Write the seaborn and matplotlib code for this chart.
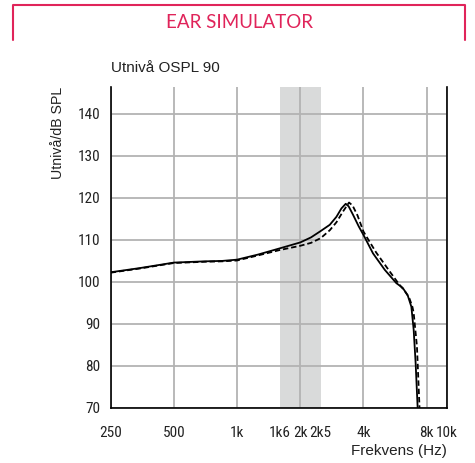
import pandas as pd
import seaborn as sns
import matplotlib.pyplot as plt
from matplotlib.lines import Line2D
from matplotlib.ticker import FixedLocator, FixedFormatter

# values (frequency in Hz, level in dB SPL)
freq_solid = [250, 345, 500, 703, 850, 1000, 1256, 1600, 2000, 2250, 2500, 2765, 2974, 3142,
              3293, 3400, 3567, 3800, 4000, 4442, 5050, 5740, 6150, 6500, 6765, 6940, 7090, 7250, 7300]
level_solid = [102.3, 103.3, 104.6, 104.9, 105.0, 105.3, 106.5, 108.0, 109.4, 110.6, 112.1, 113.6, 115.5, 117.5,
               118.6, 118.0, 116.0, 113.2, 111.2, 106.8, 102.9, 99.7, 98.6, 96.8, 94.1, 88.6, 80.7, 70.0, 65.0]

freq_dash = [250, 345, 500, 703, 850, 1000, 1256, 1600, 2000, 2250, 2500, 2765, 2974, 3200,
             3415, 3550, 3750, 4000, 4133, 4600, 5333, 5900, 6300, 6600, 6850, 6940, 7195, 7400, 7450]
level_dash = [102.2, 103.2, 104.5, 104.8, 104.9, 105.1, 106.3, 107.6, 108.6, 109.3, 110.4, 112.3, 114.2, 116.8,
              118.9, 118.2, 115.8, 112.0, 110.8, 107.0, 102.5, 99.5, 97.8, 96.3, 94.0, 92.6, 84.6, 70.0, 65.0]

band = (1600, 2500)
x_ticks = [250, 500, 1000, 2000, 4000, 8000, 10000]
x_labels = ['250', '500', '1k', '2k', '4k', '8k', '10k']
x_extra = [1600, 2500]
x_extra_labels = ['1k6', '2k5']
y_ticks = [70, 80, 90, 100, 110, 120, 130, 140]

pink = '#e0245a'
grid_col = '#b3b3b3'
text_col = '#222222'

df = pd.concat([
    pd.DataFrame({'freq': freq_solid, 'level': level_solid, 'curve': 'a'}),
    pd.DataFrame({'freq': freq_dash, 'level': level_dash, 'curve': 'b'}),
])

sns.set_style('white')
plt.rcParams['font.family'] = ['Liberation Sans', 'DejaVu Sans']

fig = plt.figure(figsize=(4.75, 4.63), dpi=100)
ax = fig.add_axes([0.233, 0.119, 0.708, 0.693])

ax.axvspan(*band, color='#d9dada', lw=0, zorder=0)
sns.lineplot(data=df, x='freq', y='level', hue='curve', style='curve',
             palette={'a': 'black', 'b': 'black'},
             dashes={'a': '', 'b': (3, 1.6)}, linewidth=1.3,
             sort=False, legend=False, ax=ax)

ax.set_xscale('log')
ax.set_xlim(250, 10000)
ax.set_ylim(70, 146.4)

ax.xaxis.set_major_locator(FixedLocator(x_ticks))
ax.xaxis.set_major_formatter(FixedFormatter(x_labels))
ax.xaxis.set_minor_locator(FixedLocator(x_extra))
ax.xaxis.set_minor_formatter(FixedFormatter(x_extra_labels))
ax.set_yticks(y_ticks)

ax.set_axisbelow(True)
ax.grid(True, which='major', color=grid_col, lw=1.3)

tick_size = 11
ax.tick_params(axis='both', which='major', direction='out', length=5.5, width=1,
               color='black', labelsize=tick_size)
ax.tick_params(axis='y', which='major', pad=2)
ax.tick_params(axis='x', which='major', pad=7.5)
ax.tick_params(axis='x', which='minor', length=0, labelsize=tick_size, pad=13)
for lab in ax.get_xticklabels(which='both') + ax.get_yticklabels():
    lab.set_family(['Roboto Condensed', 'Liberation Sans Narrow', 'DejaVu Sans'])
    lab.set_stretch('condensed')
    lab.set_color(text_col)

for side in ['left', 'right', 'bottom']:
    ax.spines[side].set_visible(True)
    ax.spines[side].set_color('black')
    ax.spines[side].set_linewidth(1.2)
ax.spines['top'].set_visible(False)

ax.set_xlabel('Frekvens (Hz)', loc='right', fontsize=11, color=text_col, labelpad=3)
ax.set_ylabel('Utnivå/dB SPL', loc='top', fontsize=10.2, color=text_col, labelpad=9)

fig.text(0.233, 1 - 68 / 463, 'Utnivå OSPL 90', fontsize=11, color=text_col, va='center')

# header frame
w, h = 475, 463
fig.add_artist(Line2D([13 / w, 13 / w, 465 / w, 465 / w],
                      [1 - 40 / h, 1 - 4.5 / h, 1 - 4.5 / h, 1 - 40 / h],
                      color=pink, lw=1.5))
fig.text(239 / w, 1 - 22 / h, 'EAR SIMULATOR', fontsize=13.5, color=pink,
         family=['Lato', 'DejaVu Sans'], ha='center', va='center')

fig.savefig('out.png', dpi=100)
